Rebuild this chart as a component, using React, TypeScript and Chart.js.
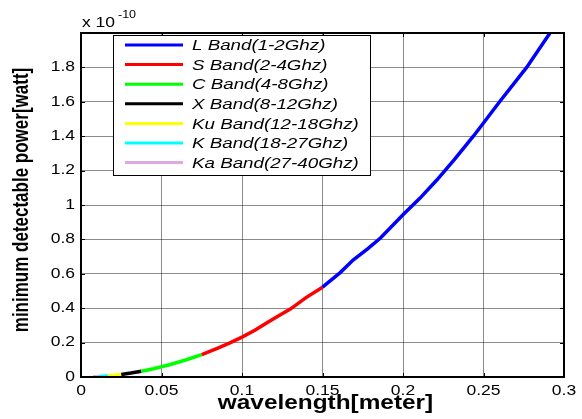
import React, { useEffect, useRef } from 'react';
import { Chart, registerables } from 'chart.js';

Chart.register(...registerables);

// ---- data (wavelength [m] vs power [x1e-10 W]) ----
const lBandX = [0.15, 0.161, 0.169, 0.178, 0.186, 0.2, 0.2106, 0.221, 0.232, 0.2437, 0.25, 0.26, 0.2768, 0.2913];
const lBandY = [0.522, 0.607, 0.68, 0.745, 0.808, 0.943, 1.04, 1.145, 1.265, 1.4, 1.477, 1.6, 1.8, 2.0];
const sBandX = [0.075, 0.085, 0.0925, 0.1, 0.108, 0.115, 0.122, 0.13, 0.14, 0.15];
const sBandY = [0.13, 0.168, 0.198, 0.232, 0.272, 0.312, 0.352, 0.395, 0.463, 0.522];
const cBandX = [0.0375, 0.045, 0.055, 0.065, 0.075];
const cBandY = [0.033, 0.048, 0.071, 0.099, 0.13];
const xBandX = [0.025, 0.031, 0.0375];
const xBandY = [0.0148, 0.0227, 0.033];
const kuBandX = [0.0167, 0.0208, 0.025];
const kuBandY = [0.0066, 0.0102, 0.0148];
const kBandX = [0.0111, 0.0139, 0.0167];
const kBandY = [0.0029, 0.0046, 0.0066];
const kaBandX = [0.0075, 0.0093, 0.0111];
const kaBandY = [0.0013, 0.002, 0.0029];

const bandLabels = [
  'L Band(1-2Ghz)',
  'S Band(2-4Ghz)',
  'C Band(4-8Ghz)',
  'X Band(8-12Ghz)',
  'Ku Band(12-18Ghz)',
  'K Band(18-27Ghz)',
  'Ka Band(27-40Ghz)',
];
const bandColors = ['#0000ff', '#ff0000', '#00ff00', '#000000', '#ffff00', '#00ffff', '#e0a8e0'];
const bandXs = [lBandX, sBandX, cBandX, xBandX, kuBandX, kBandX, kaBandX];
const bandYs = [lBandY, sBandY, cBandY, xBandY, kuBandY, kBandY, kaBandY];

const xTickValues = [0, 0.05, 0.1, 0.15, 0.2, 0.25, 0.3];
const xTickLabels = ['0', '0.05', '0.1', '0.15', '0.2', '0.25', '0.3'];
const yTickValues = [0, 0.2, 0.4, 0.6, 0.8, 1, 1.2, 1.4, 1.6, 1.8];
const yTickLabels = ['0', '0.2', '0.4', '0.6', '0.8', '1', '1.2', '1.4', '1.6', '1.8'];

const xTitle = 'wavelength[meter]';
const yTitle = 'minimum detectable power[watt]';

const STRETCH = 1.25;
const FONT = '"Liberation Sans", Arial, sans-serif';

function sText(ctx: CanvasRenderingContext2D, text: string, x: number, y: number, font: string, align: CanvasTextAlign, baseline: CanvasTextBaseline) {
  ctx.save();
  ctx.font = font;
  ctx.textAlign = align;
  ctx.textBaseline = baseline;
  ctx.fillStyle = '#000';
  ctx.translate(x, y);
  ctx.scale(STRETCH, 1);
  ctx.fillText(text, 0, 0);
  ctx.restore();
}

const decorPlugin = {
  id: 'matlabDecor',
  afterDraw(chart: any) {
    const ctx: CanvasRenderingContext2D = chart.ctx;
    const a = chart.chartArea;
    const xs = chart.scales.x;
    const ys = chart.scales.y;

    // inner tick marks
    ctx.save();
    ctx.strokeStyle = '#000';
    ctx.lineWidth = 1;
    ctx.beginPath();
    xTickValues.forEach((v) => {
      const px = Math.round(xs.getPixelForValue(v)) + 0.5;
      ctx.moveTo(px, a.bottom); ctx.lineTo(px, a.bottom - 4);
      ctx.moveTo(px, a.top); ctx.lineTo(px, a.top + 4);
    });
    yTickValues.forEach((v) => {
      const py = Math.round(ys.getPixelForValue(v)) + 0.5;
      ctx.moveTo(a.left, py); ctx.lineTo(a.left + 4, py);
      ctx.moveTo(a.right, py); ctx.lineTo(a.right - 4, py);
    });
    ctx.stroke();
    // axes box
    ctx.lineWidth = 2;
    ctx.strokeRect(a.left, a.top, a.right - a.left, a.bottom - a.top);
    ctx.restore();

    // tick labels
    const tickFont = `14px ${FONT}`;
    xTickValues.forEach((v, i) => {
      sText(ctx, xTickLabels[i], xs.getPixelForValue(v), a.bottom + 14, tickFont, 'center', 'middle');
    });
    yTickValues.forEach((v, i) => {
      sText(ctx, yTickLabels[i], a.left - 6, ys.getPixelForValue(v), tickFont, 'right', 'middle');
    });

    // exponent
    sText(ctx, 'x 10', a.left + 1, a.top - 6, `14px ${FONT}`, 'left', 'alphabetic');
    sText(ctx, '-10', a.left + 37, a.top - 15, `10px ${FONT}`, 'left', 'alphabetic');

    // axis titles
    sText(ctx, xTitle, (a.left + a.right) / 2 + 3, a.bottom + 32, `bold 19.5px ${FONT}`, 'center', 'alphabetic');
    ctx.save();
    ctx.translate(27.5, 200);
    ctx.rotate(-Math.PI / 2);
    ctx.scale(1, STRETCH);
    ctx.font = `bold 17px ${FONT}`;
    ctx.textAlign = 'center';
    ctx.textBaseline = 'alphabetic';
    ctx.fillStyle = '#000';
    ctx.fillText(yTitle, 0, 0);
    ctx.restore();

    // legend
    const lx = 113, ly = 35, lw = 257, lh = 140;
    ctx.save();
    ctx.fillStyle = '#fff';
    ctx.fillRect(lx, ly, lw, lh);
    ctx.strokeStyle = '#000';
    ctx.lineWidth = 1;
    ctx.strokeRect(lx + 0.5, ly + 0.5, lw, lh);
    chart.data.datasets.forEach((ds: any, i: number) => {
      const yy = 45 + i * 19.6;
      ctx.strokeStyle = ds.borderColor;
      ctx.lineWidth = 3;
      ctx.beginPath();
      ctx.moveTo(125, yy);
      ctx.lineTo(183, yy);
      ctx.stroke();
      sText(ctx, ds.label, 192, yy + 1, `italic 15px ${FONT}`, 'left', 'middle');
    });
    ctx.restore();
  },
};

export default function App() {
  const ref = useRef<HTMLCanvasElement | null>(null);

  useEffect(() => {
    if (!ref.current) return;
    const datasets = bandLabels.map((label, i) => ({
      label,
      data: bandXs[i].map((x, j) => ({ x, y: bandYs[i][j] })),
      borderColor: bandColors[i],
      backgroundColor: bandColors[i],
      borderWidth: 3.5,
      pointRadius: 0,
      tension: 0,
      fill: false,
      clip: 0,
    }));
    const chart = new Chart(ref.current, {
      type: 'line',
      data: { datasets },
      options: {
        animation: false,
        responsive: false,
        layout: { padding: { left: 81, right: 18, top: 33, bottom: 42 } },
        plugins: { legend: { display: false }, tooltip: { enabled: false } },
        scales: {
          x: {
            type: 'linear',
            min: 0,
            max: 0.3,
            afterBuildTicks: (s: any) => { s.ticks = xTickValues.map((value) => ({ value })); },
            afterFit: (s: any) => { s.height = 0; },
            ticks: { display: false },
            grid: { color: 'rgba(0,0,0,0.45)', lineWidth: 1, drawTicks: false },
            border: { display: false },
          },
          y: {
            type: 'linear',
            min: 0,
            max: 2.0,
            afterBuildTicks: (s: any) => { s.ticks = yTickValues.map((value) => ({ value })); },
            afterFit: (s: any) => { s.width = 0; },
            ticks: { display: false },
            grid: { color: 'rgba(0,0,0,0.45)', lineWidth: 1, drawTicks: false },
            border: { display: false },
          },
        },
      } as any,
      plugins: [decorPlugin],
    });
    return () => chart.destroy();
  }, []);

  return (
    <div style={{ position: 'absolute', left: 0, top: 0, width: 582, height: 419, background: '#fff' }}>
      <canvas ref={ref} width={582} height={419} style={{ display: 'block' }} />
    </div>
  );
}
